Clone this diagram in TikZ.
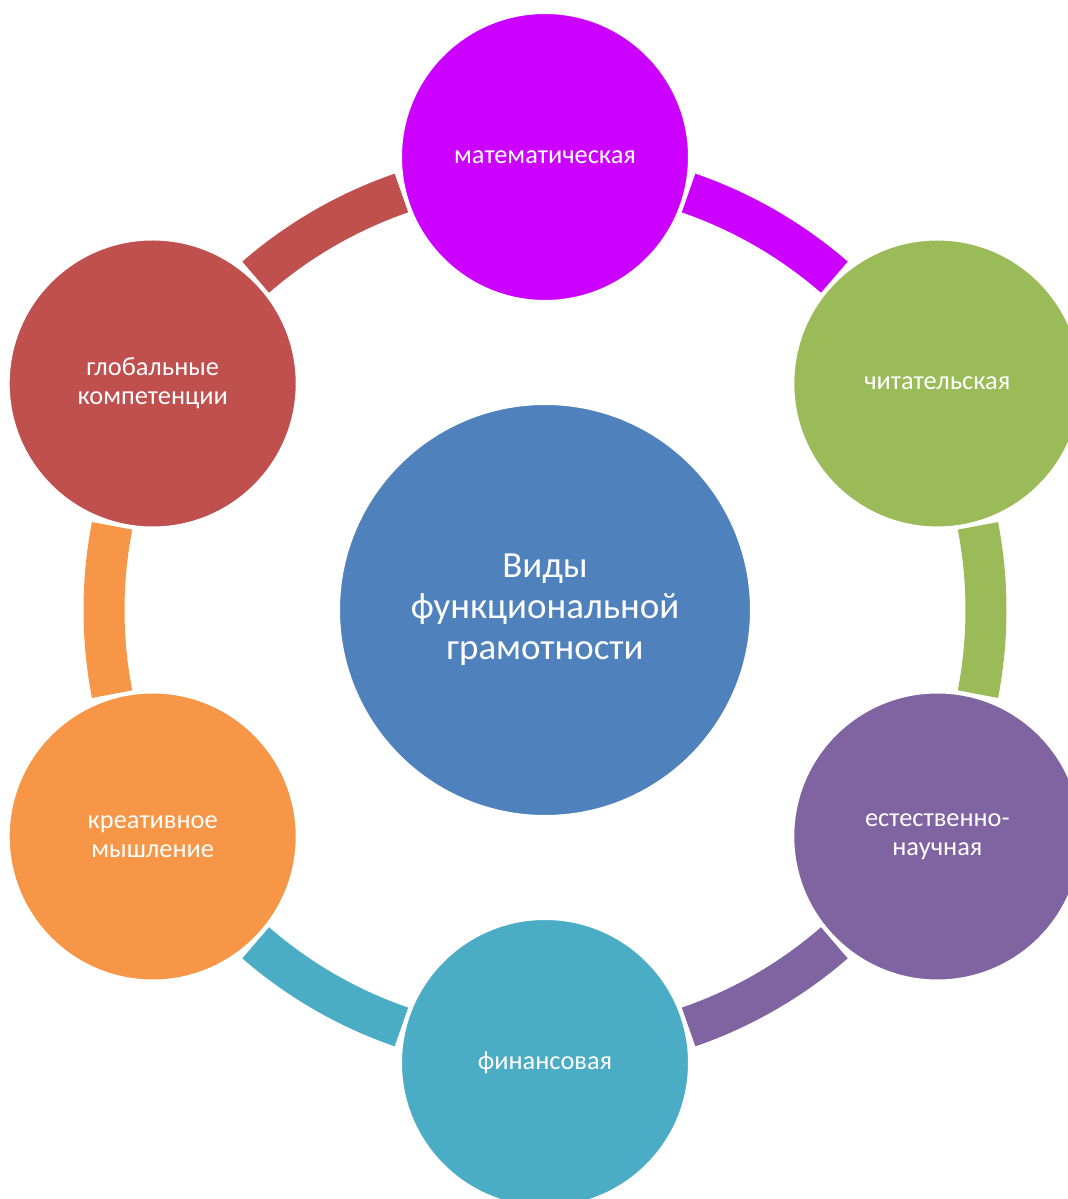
\documentclass[tikz,border=0pt]{standalone}
\usepackage{fontspec}
\setmainfont{Carlito}
\definecolor{magC}{HTML}{CC00FF}
\definecolor{greenC}{HTML}{9BBB59}
\definecolor{purpleC}{HTML}{8064A2}
\definecolor{tealC}{HTML}{4BACC6}
\definecolor{orangeC}{HTML}{F79646}
\definecolor{redC}{HTML}{C0504D}
\definecolor{blueC}{HTML}{4F81BD}
\begin{document}
\begin{tikzpicture}[
			every node/.style={circle, align=center, text=white, draw=white, line width=0.12cm, inner sep=0},
			sat/.style={minimum size=5.84cm, font=\fontsize{15}{16.5}\selectfont},
			ringseg/.style={line width=0.82cm}]

		\path[use as bounding box, clip] (0,0) rectangle (21.36,23.98);

		\node[fill=blueC, minimum size=8.32cm, font=\fontsize{21}{23.3}\selectfont](hub) at (10.9,11.78) {Виды\\функциональной\\грамотности};

		\node[sat, fill=magC](math) at (10.9,20.84) {математическая};
		\node[sat, fill=greenC](reading) at (18.746,16.31) {читательская};
		\node[sat, fill=purpleC](science) at (18.746,7.25) {естественно-\\научная};
		\node[sat, fill=tealC](finance) at (10.9,2.72) {финансовая};
		\node[sat, fill=orangeC](creative) at (3.054,7.25) {креативное\\мышление};
		\node[sat, fill=redC](global) at (3.054,16.31) {глобальные\\компетенции};

		% segments of the ring, each in the colour of the circle it leaves
		\foreach \a/\c in {90/magC, 30/greenC, -30/purpleC, -90/tealC, -150/orangeC, 150/redC}
			\draw[ringseg, \c] (hub.center) ++(\a-19:8.82) arc[start angle=\a-19, end angle=\a-41, radius=8.82];
	\end{tikzpicture}
\end{document}
